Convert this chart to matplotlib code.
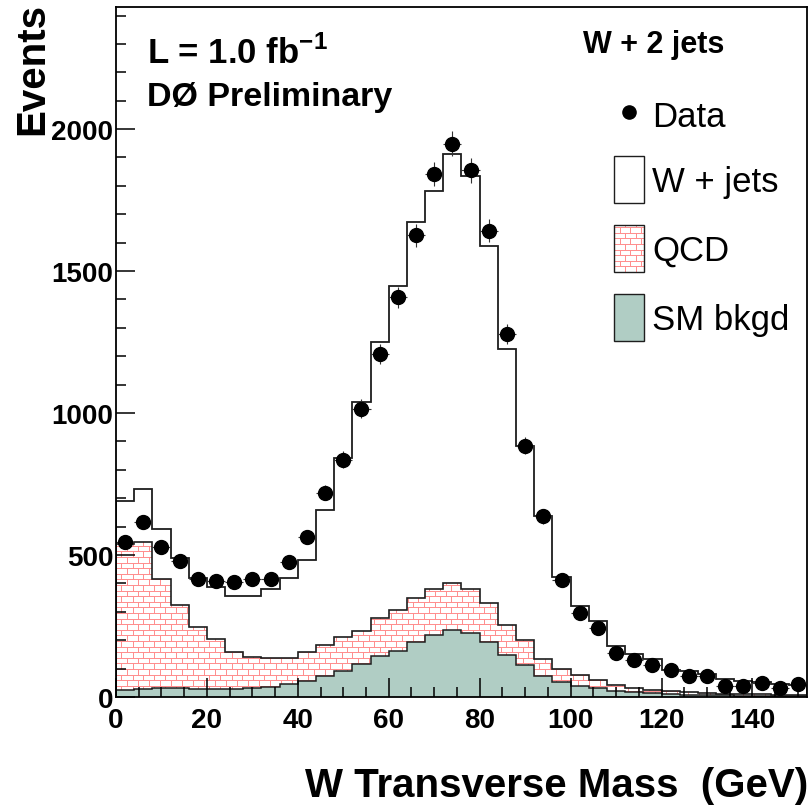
import matplotlib
matplotlib.use("Agg")
import matplotlib.pyplot as plt
from matplotlib.patches import Rectangle
from matplotlib.lines import Line2D
from matplotlib.collections import LineCollection
from matplotlib.ticker import MultipleLocator
import numpy as np

plt.rcParams["font.family"] = ["Liberation Sans", "DejaVu Sans"]
plt.rcParams["mathtext.fontset"] = "custom"
plt.rcParams["mathtext.rm"] = "Liberation Sans:bold"
plt.rcParams["mathtext.bf"] = "Liberation Sans:bold"

# W transverse mass, 4 GeV bins from 0 to 152
bin_edges = np.arange(0, 153, 4)

data_counts = [546, 616, 528, 479, 416, 408, 405, 414, 414, 475,
               564, 720, 836, 1016, 1207, 1408, 1626, 1841, 1949, 1855,
               1642, 1279, 885, 636, 413, 295, 242, 154, 132, 114,
               96, 75, 75, 40, 38, 49, 31, 47]

# stacked expectation: top of each layer
total_mc = [690, 734, 590, 490, 420, 387, 354, 354, 381, 420,
            483, 657, 840, 1040, 1250, 1448, 1672, 1783, 1914, 1834,
            1590, 1226, 885, 636, 424, 319, 267, 179, 152, 133,
            96, 90, 81, 64, 58, 52, 46, 42]

qcd_plus_sm = [540, 546, 416, 325, 246, 205, 160, 142, 137, 138,
               160, 183, 213, 234, 279, 307, 349, 379, 402, 379,
               331, 255, 199, 134, 99, 78, 60, 42, 32, 26,
               20, 17, 14, 12, 10, 9, 8, 7]

sm_bkgd = [25, 28, 30, 30, 28, 27, 28, 30, 34, 46,
           58, 75, 92, 117, 144, 163, 195, 220, 236, 225,
           195, 149, 114, 75, 52, 40, 31, 22, 18, 13,
           10, 8, 7, 6, 5, 4, 4, 3]

legend_labels = ["Data", "W + jets", "QCD", "SM bkgd"]

GREEN = "#b0cdc4"
PINK = "#ff8c8c"
EDGE = "#1e1e1e"

W, H = 812, 812


def brick_lines(x0, y0, w, h, row=5.6, brick=11.0):
    """Brick-wall pattern segments in figure pixels covering a box."""
    segs = []
    nrows = int(h / row) + 2
    for i in range(nrows):
        y = y0 + i * row
        segs.append([(x0, y), (x0 + w, y)])
        off = 0.5 * brick * (i % 2)
        x = x0 + off
        while x < x0 + w:
            segs.append([(x, y), (x, y + row)])
            x += brick
    return [[(px / W, py / H) for px, py in s] for s in segs]


def add_bricks(artist, x0, y0, w, h):
    lc = LineCollection(brick_lines(x0, y0, w, h), colors=PINK, linewidths=0.7,
                        transform=fig.transFigure, zorder=artist.get_zorder() + 0.01)
    lc.set_clip_path(artist)
    fig.add_artist(lc)


fig = plt.figure(figsize=(W / 100, H / 100), dpi=100)
ax = fig.add_axes([116 / W, 114 / H, 691 / W, 690 / H])

ax.stairs(total_mc, bin_edges, fill=True, facecolor="white", edgecolor="none", zorder=1)
ax.stairs(total_mc, bin_edges, color=EDGE, lw=1.3, zorder=1.1)
qcd_patch = ax.stairs(qcd_plus_sm, bin_edges, fill=True, facecolor="white",
                      edgecolor="none", zorder=1.2)
ax.stairs(qcd_plus_sm, bin_edges, color=EDGE, lw=1.2, zorder=1.3)
ax.stairs(sm_bkgd, bin_edges, fill=True, facecolor=GREEN, edgecolor="none", zorder=1.4)
ax.stairs(sm_bkgd, bin_edges, color=EDGE, lw=1.1, zorder=1.5)

centers = 0.5 * (bin_edges[:-1] + bin_edges[1:])
counts = np.array(data_counts, dtype=float)
ax.errorbar(centers, counts, yerr=np.sqrt(counts), xerr=np.diff(bin_edges) / 2,
            fmt="o", color="black", ms=10, ecolor="#333333", elinewidth=0.8,
            capsize=0, zorder=3)

ax.set_xlim(0, 152)
ax.set_ylim(0, 2430)
ax.xaxis.set_major_locator(MultipleLocator(20))
ax.xaxis.set_minor_locator(MultipleLocator(5))
ax.yaxis.set_major_locator(MultipleLocator(500))
ax.yaxis.set_minor_locator(MultipleLocator(100))
ax.tick_params(which="both", direction="in", top=False, right=False, width=1.1)
ax.tick_params(which="major", length=14)
ax.tick_params(which="minor", length=7)
ax.tick_params(axis="x", labelsize=20, pad=7)
ax.tick_params(axis="y", labelsize=20, pad=2)
for lab in ax.get_xticklabels() + ax.get_yticklabels():
    lab.set_fontweight("bold")
for sp in ax.spines.values():
    sp.set_linewidth(1.3)
    sp.set_zorder(4)

# brick hatch for QCD, clipped to its filled shape
lc = LineCollection(brick_lines(116, 114, 691, 690), colors=PINK, linewidths=0.7,
                    transform=fig.transFigure, zorder=1.25)
lc.set_clip_path(qcd_patch)
ax.add_collection(lc, autolim=False)

fig.text(32 / W, 1 - 3 / H, "Events", rotation=90, ha="center", va="top",
         fontsize=29, fontweight="bold")
fig.text(808 / W, 1 - 786 / H, "W Transverse Mass  (GeV)", ha="right", va="center",
         fontsize=29, fontweight="bold")

fig.text(147 / W, 1 - 64 / H, r"L = 1.0 fb$^{-1}$", ha="left", va="baseline",
         fontsize=25, fontweight="bold")
fig.text(147 / W, 1 - 106 / H, "DØ Preliminary", ha="left", va="baseline",
         fontsize=24.5, fontweight="bold")
fig.text(583 / W, 1 - 53 / H, "W + 2 jets", ha="left", va="baseline",
         fontsize=22, fontweight="bold")

# legend drawn by hand to match the original placement
fig.add_artist(Line2D([629 / W], [1 - 113 / H], marker="o", ms=9.5, color="black",
                      transform=fig.transFigure))
fig.text(652 / W, 1 - 127 / H, legend_labels[0], ha="left", va="baseline", fontsize=25)

box_tops = [157, 226, 295]
faces = ["white", "white", GREEN]
for top, label, face in zip(box_tops, legend_labels[1:], faces):
    y0 = H - (top + 47)
    box = Rectangle((614 / W, y0 / H), 30 / W, 47 / H, transform=fig.transFigure,
                    facecolor=face, edgecolor="none", zorder=5)
    fig.add_artist(box)
    if label == "QCD":
        add_bricks(box, 614, y0, 30, 47)
    fig.add_artist(Rectangle((614 / W, y0 / H), 30 / W, 47 / H, transform=fig.transFigure,
                             fill=False, edgecolor=EDGE, lw=1.0, zorder=5.1))
    fig.text(652 / W, 1 - (top + 35) / H, label, ha="left", va="baseline", fontsize=25)

fig.savefig("out.png", dpi=100)
